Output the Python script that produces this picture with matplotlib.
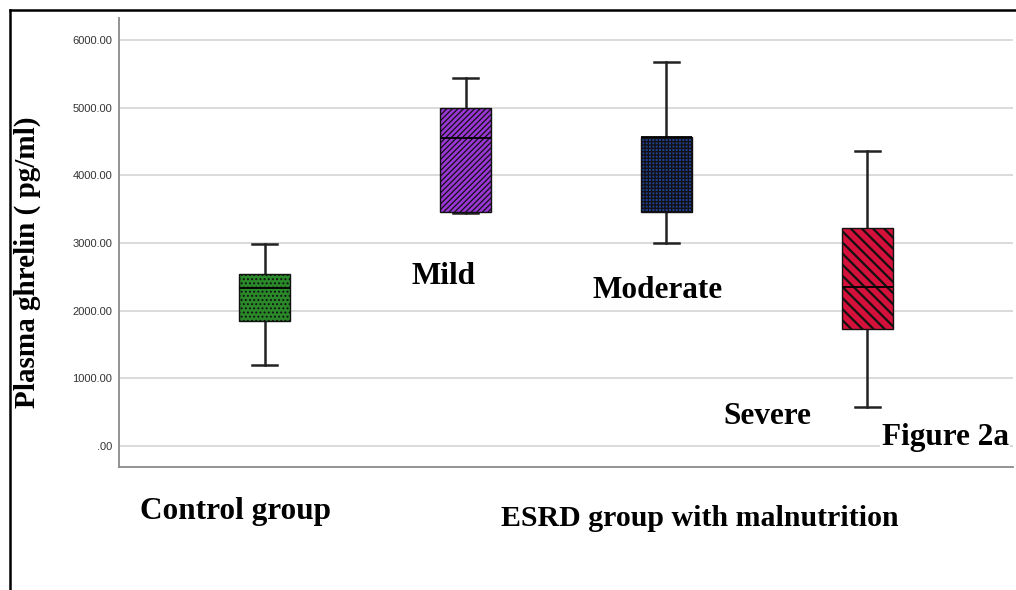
import matplotlib
matplotlib.use("Agg")
import matplotlib.pyplot as plt
from matplotlib.lines import Line2D
from matplotlib.ticker import FuncFormatter

# ghrelin summary per group (pg/ml)
groups = ["Control", "Mild", "Moderate", "Severe"]
whis_lo = [1195, 3440, 3005, 580]
q1 = [1850, 3460, 3460, 1730]
median = [2340, 4545, 4560, 2350]
q3 = [2540, 5000, 4565, 3225]
whis_hi = [2980, 5440, 5680, 4355]

box_colors = ["#2a8a2a", "#9a35d6", "#1f3d8c", "#d5103a"]
box_hatches = ["....", "//////", "+++++", "\\\\\\"]
hatch_widths = [0.9, 0.9, 0.9, 1.6]

yticks = [0, 1000, 2000, 3000, 4000, 5000, 6000]

serif = "Liberation Serif"
sans = "Liberation Sans"

plt.rcParams["hatch.linewidth"] = 0.9

W, H = 1016, 590
fig = plt.figure(figsize=(W / 100, H / 100), dpi=100)
ax = fig.add_axes([119 / W, 1 - 467 / H, (1013 - 119) / W, (467 - 18) / H])

stats = []
for i, g in enumerate(groups):
    stats.append(dict(label=g, whislo=whis_lo[i], q1=q1[i], med=median[i],
                      q3=q3[i], whishi=whis_hi[i], fliers=[]))

bp = ax.bxp(stats, positions=[1, 2, 3, 4], widths=0.254, patch_artist=True,
            showfliers=False,
            medianprops=dict(color="black", linewidth=1.3, zorder=5),
            whiskerprops=dict(color="#222222", linewidth=1.8),
            capprops=dict(color="#222222", linewidth=1.8),
            boxprops=dict(linewidth=1.0))
for patch, c, h, hw in zip(bp["boxes"], box_colors, box_hatches, hatch_widths):
    patch.set_facecolor(c)
    patch.set_edgecolor("#111111")
    patch.set_hatch(h)
    if hasattr(patch, "set_hatch_linewidth"):
        patch.set_hatch_linewidth(hw)
    patch.set_zorder(3)

ax.set_xlim(0.276, 4.724)
ax.set_ylim(-310, 6325)
ax.set_yticks(yticks)
ax.yaxis.set_major_formatter(FuncFormatter(lambda v, p: "%.2f" % v if v else ".00"))
ax.set_xticks([])
ax.tick_params(axis="y", length=0, pad=5, labelsize=8, labelcolor="#333333")
for lab in ax.get_yticklabels():
    lab.set_fontfamily(sans)
ax.grid(axis="y", color="#d4d4d4", linewidth=1.2)
ax.set_axisbelow(True)
for s in ["top", "right"]:
    ax.spines[s].set_visible(False)
for s in ["left", "bottom"]:
    ax.spines[s].set_color("#8a8a8a")
    ax.spines[s].set_linewidth(1.3)

# outer frame (left and top edges)
fig.add_artist(Line2D([10 / W, 10 / W], [0, 1 - 10 / H], transform=fig.transFigure,
                      color="black", linewidth=1.8))
fig.add_artist(Line2D([10 / W, 1], [1 - 10 / H, 1 - 10 / H], transform=fig.transFigure,
                      color="black", linewidth=1.8))


def label(x, y, s, size=22.5, bg=False):
    t = fig.text(x / W, 1 - y / H, s, ha="center", va="center", fontsize=size,
                 fontweight="bold", family=serif, color="black")
    if bg:
        t.set_bbox(dict(facecolor="white", edgecolor="none", pad=1))
    return t


fig.text(27 / W, 1 - 262 / H, "Plasma ghrelin ( pg/ml)", rotation=90,
         ha="center", va="center", fontsize=21, fontweight="bold", family=serif)

label(444, 277, "Mild")
label(658, 290, "Moderate")
label(767, 417, "Severe")
label(945, 438, "Figure 2a", bg=True)
label(236, 511, "Control group")
label(700, 518, "ESRD group with malnutrition", size=21.5)

fig.savefig("out.png", dpi=100)
